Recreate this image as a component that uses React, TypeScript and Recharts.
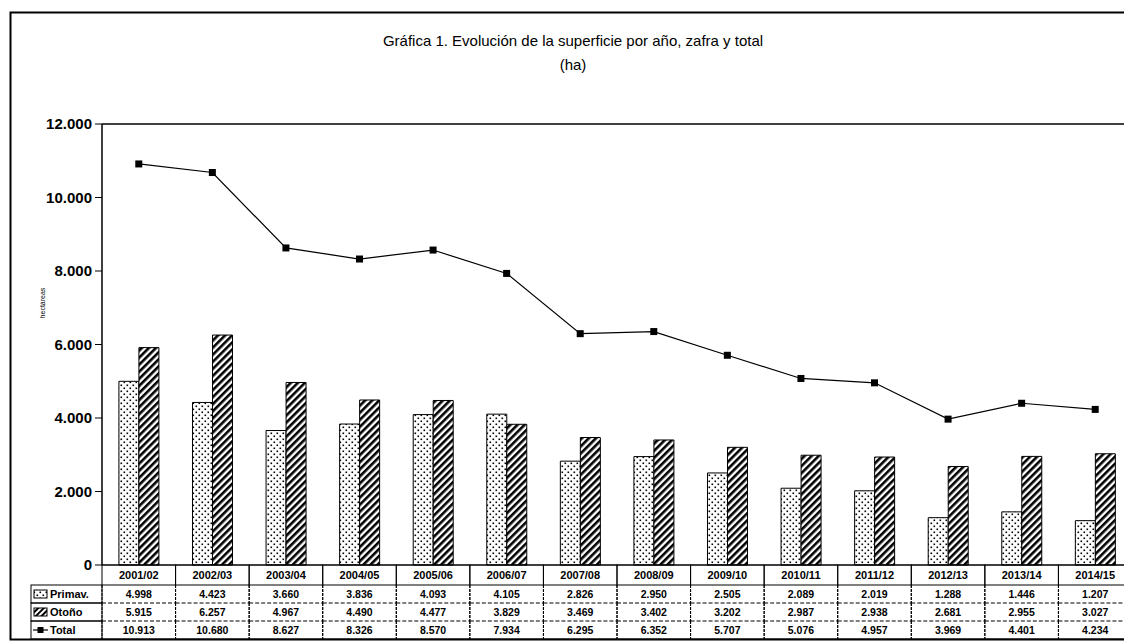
import React from 'react';
import { ComposedChart, Bar, Line, XAxis, YAxis, ReferenceLine } from 'recharts';

const categories = ['2001/02', '2002/03', '2003/04', '2004/05', '2005/06', '2006/07', '2007/08', '2008/09', '2009/10', '2010/11', '2011/12', '2012/13', '2013/14', '2014/15'];
const primav = [4998, 4423, 3660, 3836, 4093, 4105, 2826, 2950, 2505, 2089, 2019, 1288, 1446, 1207];
const otono = [5915, 6257, 4967, 4490, 4477, 3829, 3469, 3402, 3202, 2987, 2938, 2681, 2955, 3027];
const total = [10913, 10680, 8627, 8326, 8570, 7934, 6295, 6352, 5707, 5076, 4957, 3969, 4401, 4234];
const yTicks = [0, 2000, 4000, 6000, 8000, 10000, 12000];
const seriesNames = ['Primav.', 'Otoño', 'Total'];

const data = categories.map((c, i) => ({ cat: c, primav: primav[i], otono: otono[i], total: total[i] }));

const fmt = (v: number) => String(v).replace(/\B(?=(\d{3})+(?!\d))/g, '.');

const CHART_W = 1140;
const CHART_H = 641;
const M_TOP = 124;
const M_RIGHT = 8;
const Y_W = 102;
const X_H = 76;
const PLOT_W = CHART_W - M_RIGHT - Y_W;
const COL_W = PLOT_W / categories.length;
const ROW_H = 18;
const FONT = 'Arial, "Liberation Sans", Helvetica, sans-serif';

const TableTick = (props: any) => {
  const { x, y, payload } = props;
  const i = payload.index;
  const left = x - COL_W / 2;
  const vals = [primav[i], otono[i], total[i]];
  const top = y;
  return (
    <g>
      <rect x={left} y={top} width={COL_W} height={20} fill="none" stroke="#000" strokeWidth={1} />
      <text x={x} y={top + 14} textAnchor="middle" fontFamily={FONT} fontWeight="bold" fontSize={11} fill="#000">
        {payload.value}
      </text>
      {vals.map((v, r) => {
        const ry = top + 20 + r * ROW_H;
        return (
          <g key={r}>
            <line x1={left} x2={left + COL_W} y1={ry + ROW_H} y2={ry + ROW_H} stroke="#000" strokeWidth={1} strokeDasharray={r < 2 ? '4 2' : undefined} />
            <line x1={left} x2={left} y1={ry} y2={ry + ROW_H} stroke="#000" strokeWidth={1} strokeDasharray="3 1" />
            <line x1={left + COL_W} x2={left + COL_W} y1={ry} y2={ry + ROW_H} stroke="#000" strokeWidth={1} strokeDasharray="3 1" />
            <text x={x} y={ry + 13} textAnchor="middle" fontFamily={FONT} fontWeight="bold" fontSize={10.5} fill="#000">
              {fmt(v)}
            </text>
          </g>
        );
      })}
    </g>
  );
};

const SquareDot = (props: any) => {
  const { cx, cy, index } = props;
  if (cx == null || cy == null) return <g key={index} />;
  return <rect key={index} x={cx - 3.5} y={cy - 3.5} width={7} height={7} fill="#000" />;
};

export default function App() {
  const labelTop = M_TOP + (CHART_H - M_TOP - X_H) + 20;
  return (
    <div style={{ position: 'absolute', left: 0, top: 0, width: 1124, height: 641, overflow: 'hidden', background: '#fff' }}>
      <ComposedChart
        width={CHART_W}
        height={CHART_H}
        data={data}
        margin={{ top: M_TOP, right: M_RIGHT, bottom: 0, left: 0 }}
        barCategoryGap="23%"
        barGap={0}
      >
        <defs>
          <pattern id="dots" patternUnits="userSpaceOnUse" width="6" height="6">
            <rect width="6" height="6" fill="#fff" />
            <rect x="0.5" y="0.5" width="1.6" height="1.6" fill="#000" />
            <rect x="3.5" y="3.5" width="1.6" height="1.6" fill="#000" />
          </pattern>
          <pattern id="hatch" patternUnits="userSpaceOnUse" width="5" height="5" patternTransform="rotate(45)">
            <rect width="5" height="5" fill="#fff" />
            <rect x="0" y="0" width="2.6" height="5" fill="#000" />
          </pattern>
        </defs>
        <XAxis
          dataKey="cat"
          height={X_H}
          axisLine={{ stroke: '#000', strokeWidth: 1 }}
          tickLine={false}
          tickSize={0}
          tickMargin={0}
          interval={0}
          tick={<TableTick />}
        />
        <YAxis
          width={Y_W}
          domain={[0, 12000]}
          ticks={yTicks}
          interval={0}
          tickFormatter={fmt}
          axisLine={{ stroke: '#000', strokeWidth: 1.5 }}
          tickLine={{ stroke: '#000' }}
          tickSize={7}
          tickMargin={3}
          tick={{ fill: '#000', fontSize: 15, fontWeight: 'bold', fontFamily: FONT }}
        />
        <ReferenceLine y={12000} stroke="#000" strokeWidth={1.5} />
        <Bar dataKey="primav" fill="url(#dots)" stroke="#000" strokeWidth={1} isAnimationActive={false} />
        <Bar dataKey="otono" fill="url(#hatch)" stroke="#000" strokeWidth={1} isAnimationActive={false} />
        <Line dataKey="total" stroke="#000" strokeWidth={1.2} dot={SquareDot} activeDot={false} isAnimationActive={false} />
      </ComposedChart>
      <svg width={1124} height={641} style={{ position: 'absolute', left: 0, top: 0, pointerEvents: 'none' }}>
        <defs>
          <pattern id="dots2" patternUnits="userSpaceOnUse" width="6" height="6">
            <rect width="6" height="6" fill="#fff" />
            <rect x="0.5" y="0.5" width="1.6" height="1.6" fill="#000" />
            <rect x="3.5" y="3.5" width="1.6" height="1.6" fill="#000" />
          </pattern>
          <pattern id="hatch2" patternUnits="userSpaceOnUse" width="4" height="4" patternTransform="rotate(45)">
            <rect width="4" height="4" fill="#fff" />
            <rect x="0" y="0" width="2" height="4" fill="#000" />
          </pattern>
        </defs>
        <rect x={10.5} y={12.5} width={1130} height={627} fill="none" stroke="#000" strokeWidth={2} />
        <text x={573} y={46} textAnchor="middle" fontFamily={FONT} fontSize={15} fill="#000">
          Gráfica 1. Evolución de la superficie por año, zafra y total
        </text>
        <text x={573} y={70} textAnchor="middle" fontFamily={FONT} fontSize={15} fill="#000">
          (ha)
        </text>
        <text x={45} y={303} textAnchor="middle" fontFamily={FONT} fontSize={7} fill="#000" transform="rotate(-90 45 303)">
          hectáreas
        </text>
        {seriesNames.map((name, r) => {
          const ry = labelTop + r * ROW_H;
          return (
            <g key={name}>
              <rect x={31} y={ry} width={Y_W - 31} height={ROW_H} fill="none" stroke="#000" strokeWidth={1} />
              {r === 0 && <rect x={34} y={ry + 5} width={13} height={8} fill="url(#dots2)" stroke="#000" strokeWidth={1} />}
              {r === 1 && <rect x={34} y={ry + 5} width={13} height={8} fill="url(#hatch2)" stroke="#000" strokeWidth={1} />}
              {r === 2 && (
                <g>
                  <line x1={33} x2={48} y1={ry + 9} y2={ry + 9} stroke="#000" strokeWidth={1.2} />
                  <rect x={37.5} y={ry + 6} width={6} height={6} fill="#000" />
                </g>
              )}
              <text x={50} y={ry + 13} fontFamily={FONT} fontWeight="bold" fontSize={11} fill="#000">
                {name}
              </text>
            </g>
          );
        })}
      </svg>
    </div>
  );
}
